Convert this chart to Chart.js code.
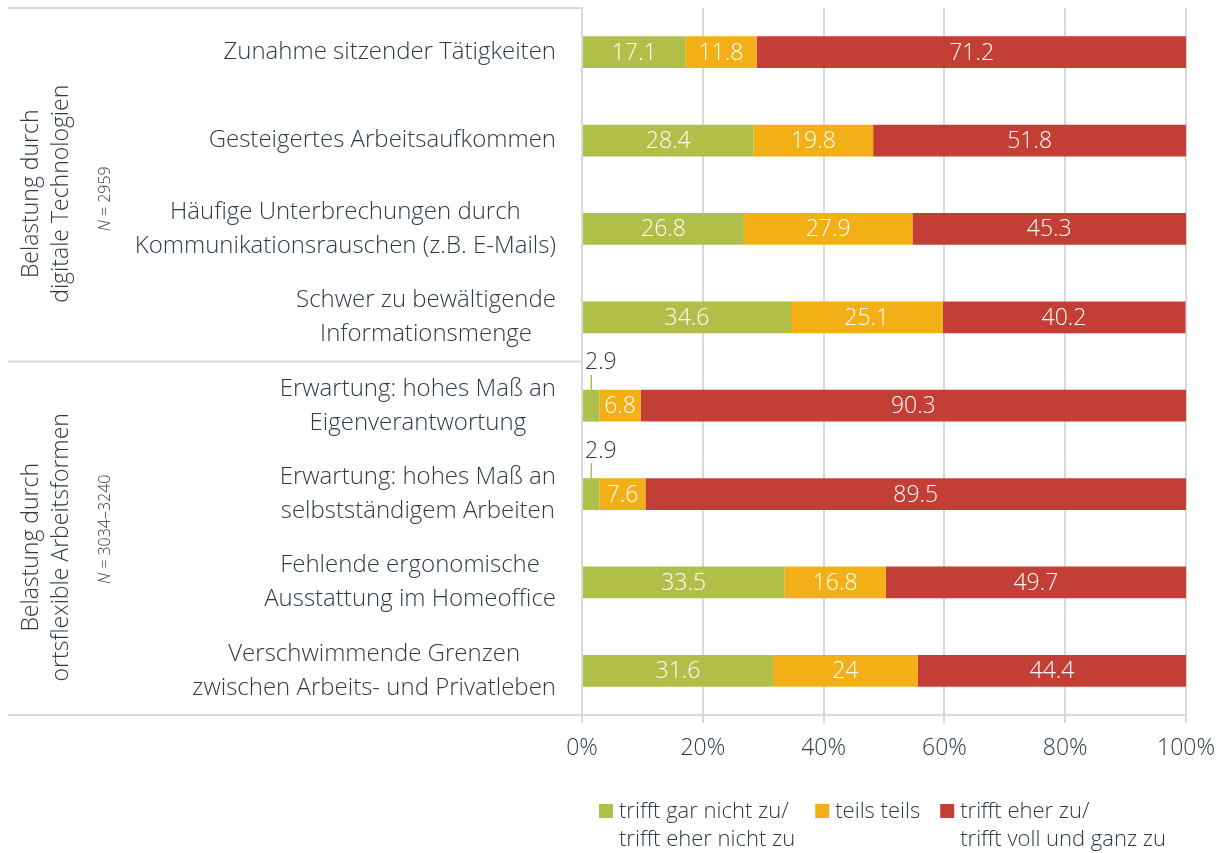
<!DOCTYPE html>
<html>
<head>
<meta charset="utf-8">
<script src="https://cdn.jsdelivr.net/npm/chart.js@4.4.0/dist/chart.umd.min.js"></script>
<style>
  body { margin: 0; background: #fff; }
  canvas { display: block; }
</style>
</head>
<body>
<canvas id="myChart" width="1227" height="853"></canvas>
<script>
// categories (each one may have several lines)
const categories = [
  ['Zunahme sitzender Tätigkeiten'],
  ['Gesteigertes Arbeitsaufkommen'],
  ['Häufige Unterbrechungen durch', 'Kommunikationsrauschen (z.B. E-Mails)'],
  ['Schwer zu bewältigende', 'Informationsmenge'],
  ['Erwartung: hohes Maß an', 'Eigenverantwortung'],
  ['Erwartung: hohes Maß an', 'selbstständigem Arbeiten'],
  ['Fehlende ergonomische', 'Ausstattung im Homeoffice'],
  ['Verschwimmende Grenzen', 'zwischen Arbeits- und Privatleben']
]

// series values in percent
const disagree = [17.1, 28.4, 26.8, 34.6, 2.9, 2.9, 33.5, 31.6]
const neutral = [11.8, 19.8, 27.9, 25.1, 6.8, 7.6, 16.8, 24]
const agree = [71.2, 51.8, 45.3, 40.2, 90.3, 89.5, 49.7, 44.4]

const seriesNames = [
  ['trifft gar nicht zu/', 'trifft eher nicht zu'],
  ['teils teils'],
  ['trifft eher zu/', 'trifft voll und ganz zu']
]

const groupTitles = [
  ['Belastung durch', 'digitale Technologien'],
  ['Belastung durch', 'ortsflexible Arbeitsformen']
]
const groupN = ['2959', '3034–3240']
const groupFirst = [0, 4]
const groupLast = [3, 7]

const xTicks = [0, 20, 40, 60, 80, 100]

const colors = ['#afbf48', '#f2b016', '#c33e34']
const textColor = '#2d3b48'
const gridColor = '#d9d9d9'
const fontFamily = "'Open Sans', sans-serif"

Chart.defaults.font.family = fontFamily
Chart.defaults.color = textColor

const drawExtras = {
  id: 'drawExtras',
  afterDatasetsDraw(chart) {
    const ctx = chart.ctx
    const yScale = chart.scales.y
    const area = chart.chartArea
    ctx.save()

    // frame lines on the left side
    ctx.strokeStyle = gridColor
    ctx.lineWidth = 2
    const leftX = 8
    const sepY = (yScale.getPixelForValue(3) + yScale.getPixelForValue(4)) / 2
    ;[area.top, sepY, area.bottom].forEach(y => {
      ctx.beginPath()
      ctx.moveTo(leftX, y)
      ctx.lineTo(area.left, y)
      ctx.stroke()
    })

    // category labels, lines centered, block right aligned
    ctx.fillStyle = textColor
    ctx.font = '300 24px ' + fontFamily
    ctx.textBaseline = 'middle'
    ctx.textAlign = 'center'
    categories.forEach((lines, i) => {
      const y = yScale.getPixelForValue(i)
      const w = Math.max(...lines.map(l => ctx.measureText(l).width))
      const cx = 556 - w / 2
      lines.forEach((l, j) => {
        ctx.fillText(l, cx, y + (j - (lines.length - 1) / 2) * 34)
      })
    })

    // group titles (rotated)
    groupTitles.forEach((lines, g) => {
      const yc = (yScale.getPixelForValue(groupFirst[g]) + yScale.getPixelForValue(groupLast[g])) / 2
      ctx.save()
      ctx.translate(0, yc + 9)
      ctx.rotate(-Math.PI / 2)
      ctx.font = '300 23px ' + fontFamily
      ctx.textAlign = 'center'
      ctx.fillText(lines[0], 0, 31)
      ctx.fillText(lines[1], 0, 61)
      ctx.restore()

      // N
      ctx.save()
      const nOff = g === 0 ? 14 : -9
      ctx.translate(105, yc + nOff)
      ctx.rotate(-Math.PI / 2)
      const rest = ' = ' + groupN[g]
      ctx.font = '300 16px ' + fontFamily
      const wRest = ctx.measureText(rest).width
      ctx.font = 'italic 300 16px ' + fontFamily
      const wN = ctx.measureText('N').width
      ctx.textAlign = 'left'
      const start = -(wN + wRest) / 2
      ctx.fillText('N', start, 0)
      ctx.font = '300 16px ' + fontFamily
      ctx.fillText(rest, start + wN, 0)
      ctx.restore()
    })

    // value labels
    ctx.font = '300 23px ' + fontFamily
    ctx.textAlign = 'center'
    chart.data.datasets.forEach((ds, d) => {
      const meta = chart.getDatasetMeta(d)
      meta.data.forEach((bar, i) => {
        const v = ds.data[i]
        const cx = (bar.x + bar.base) / 2
        if (v < 5) {
          const top = bar.y - bar.height / 2
          ctx.strokeStyle = colors[d]
          ctx.lineWidth = 1.5
          ctx.beginPath()
          ctx.moveTo(cx, top - 15)
          ctx.lineTo(cx, top)
          ctx.stroke()
          ctx.fillStyle = textColor
          ctx.textAlign = 'left'
          ctx.fillText(String(v), bar.base + 2, bar.y - 43)
          ctx.textAlign = 'center'
        } else {
          ctx.fillStyle = '#ffffff'
          ctx.fillText(String(v), cx, bar.y + 1)
        }
      })
    })

    // legend
    ctx.font = '300 22px ' + fontFamily
    ctx.textAlign = 'left'
    let lx = 599
    seriesNames.forEach((lines, s) => {
      ctx.fillStyle = colors[s]
      ctx.fillRect(lx, 804, 14, 14)
      ctx.fillStyle = textColor
      lines.forEach((l, j) => ctx.fillText(l, lx + 20, 812 + j * 28))
      const w = Math.max(...lines.map(l => ctx.measureText(l).width))
      lx += 20 + w + 20
    })

    ctx.restore()
  }
}

const myChartRef = document.getElementById('myChart').getContext('2d')
new Chart(myChartRef, {
  type: 'bar',
  data: {
    labels: categories,
    datasets: [
      { label: seriesNames[0].join(' '), data: disagree, backgroundColor: colors[0] },
      { label: seriesNames[1].join(' '), data: neutral, backgroundColor: colors[1] },
      { label: seriesNames[2].join(' '), data: agree, backgroundColor: colors[2] }
    ]
  },
  options: {
    responsive: false,
    animation: false,
    indexAxis: 'y',
    datasets: {
      bar: { barPercentage: 0.36, categoryPercentage: 1 }
    },
    layout: { padding: { top: 8, right: 40, left: 0, bottom: 0 } },
    plugins: {
      legend: { display: false },
      tooltip: { enabled: false }
    },
    scales: {
      x: {
        stacked: true,
        min: 0,
        max: 100,
        afterBuildTicks: s => { s.ticks = xTicks.map(v => ({ value: v })) },
        afterFit: s => { s.height = 138 },
        ticks: {
          callback: v => v + '%',
          font: { size: 23, weight: '300' },
          color: textColor,
          padding: 12,
          maxRotation: 0
        },
        grid: { color: gridColor, lineWidth: 2, tickLength: 8 },
        border: { color: gridColor, width: 2 }
      },
      y: {
        stacked: true,
        afterFit: s => { s.width = 582 },
        ticks: { display: false },
        grid: { display: false },
        border: { color: gridColor, width: 2 }
      }
    }
  },
  plugins: [drawExtras]
})
</script>
</body>
</html>
